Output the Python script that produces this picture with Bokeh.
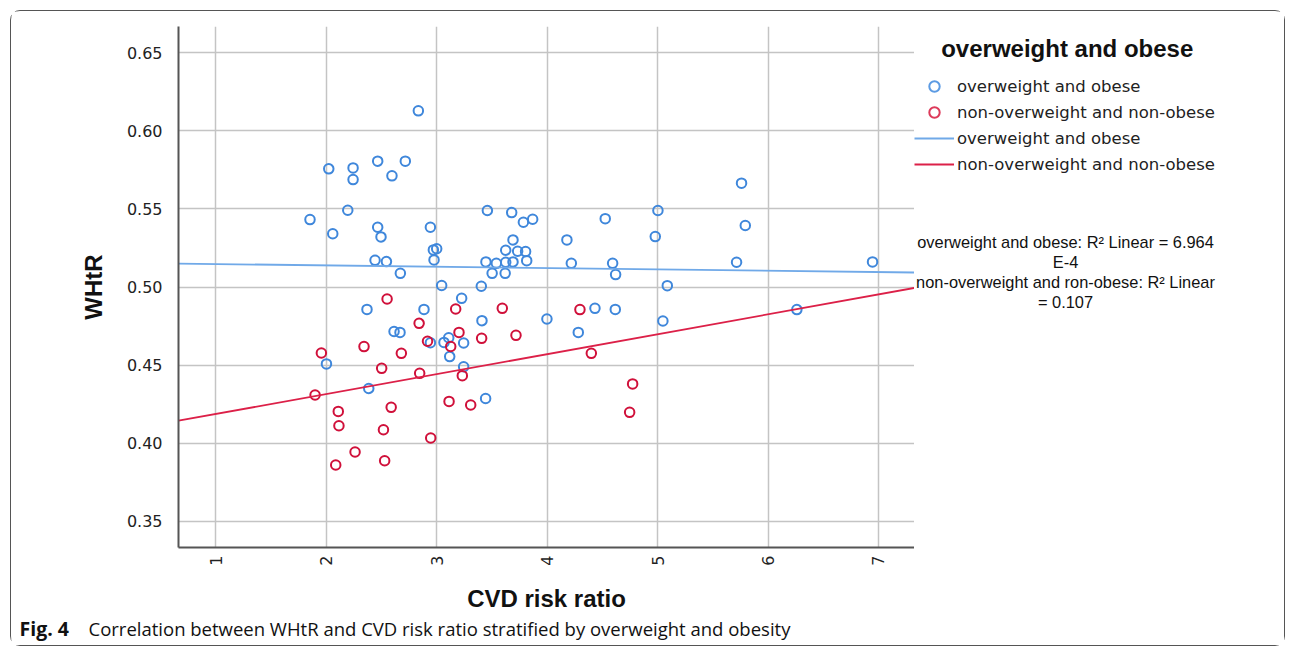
import numpy as np
from bokeh.plotting import figure
from bokeh.layouts import column, row
from bokeh.models import (FixedTicker, PrintfTickFormatter, Label, Legend,
                          LegendItem, Range1d)
from bokeh.embed import file_html
from bokeh.resources import INLINE

# ---------------- data ----------------
x_ticks = [1, 2, 3, 4, 5, 6, 7]
y_ticks = [0.35, 0.40, 0.45, 0.50, 0.55, 0.60, 0.65]

# overweight and obese group (CVD risk ratio, WHtR)
ow_cvd = [2.834, 2.023, 2.243, 2.243, 2.466, 2.716, 2.595, 1.853, 2.195, 2.059,
          2.466, 2.496, 2.943, 2.970, 3.000, 2.976, 2.442, 2.545, 2.671, 3.045,
          3.459, 3.679, 3.785, 3.869, 3.691, 3.625, 3.733, 3.805, 3.446, 3.540,
          3.625, 3.691, 3.815, 3.502, 3.620, 4.179, 4.219, 4.526, 4.593, 4.620,
          5.003, 4.979, 3.404, 3.226, 3.410, 3.998, 4.433, 4.617, 4.282, 3.244,
          3.109, 3.066, 3.118, 3.244, 3.443, 2.369, 2.885, 2.614, 2.668, 2.943,
          2.002, 2.385, 5.760, 5.794, 5.715, 6.946, 5.088, 5.048, 6.261]
ow_whtr = [0.6128, 0.5757, 0.5763, 0.5688, 0.5806, 0.5806, 0.5712, 0.5432, 0.5492, 0.5341,
           0.5383, 0.5321, 0.5383, 0.5238, 0.5245, 0.5174, 0.5171, 0.5163, 0.5088, 0.5010,
           0.5490, 0.5477, 0.5415, 0.5434, 0.5302, 0.5236, 0.5229, 0.5227, 0.5161, 0.5152,
           0.5159, 0.5161, 0.5169, 0.5088, 0.5088, 0.5302, 0.5152, 0.5438, 0.5152, 0.5080,
           0.5490, 0.5323, 0.5005, 0.4928, 0.4785, 0.4796, 0.4864, 0.4857, 0.4710, 0.4642,
           0.4676, 0.4646, 0.4555, 0.4490, 0.4287, 0.4857, 0.4857, 0.4716, 0.4710, 0.4644,
           0.4508, 0.4351, 0.5665, 0.5394, 0.5159, 0.5161, 0.5009, 0.4783, 0.4856]

# non-overweight and non-obese group
non_cvd = [3.172, 3.594, 4.297, 3.202, 3.407, 3.718, 3.127, 3.232, 4.400, 3.112,
           3.308, 4.774, 4.747, 2.551, 2.841, 2.917, 2.342, 2.680, 1.956, 2.502,
           2.846, 1.899, 2.109, 2.588, 2.115, 2.518, 2.946, 2.261, 2.529, 2.086]
non_whtr = [0.4860, 0.4864, 0.4856, 0.4710, 0.4672, 0.4691, 0.4620, 0.4433, 0.4576, 0.4268,
            0.4245, 0.4380, 0.4198, 0.4924, 0.4768, 0.4653, 0.4619, 0.4576, 0.4578, 0.4480,
            0.4448, 0.4309, 0.4204, 0.4230, 0.4112, 0.4087, 0.4034, 0.3944, 0.3888, 0.3861]

# linear fit lines (intercept, slope) as shown in the chart
fit_x = [0.6625, 7.326]
ow_fit = (0.5156, -0.000855)
non_fit = (0.4060, 0.01276)

legend_title = "overweight and obese"
labels_legend = ["overweight and obese", "non-overweight and non-obese"]
r2_lines = ["overweight and obese: R\u00b2 Linear = 6.964", "E-4",
            "non-overweight and ron-obese: R\u00b2 Linear", "= 0.107"]
caption_bold = "Fig. 4"
caption_text = "Correlation between WHtR and CVD risk ratio stratified by overweight and obesity"

BLUE = "#3f87db"
RED = "#d0103a"
BLUE_LINE = "#70a9e8"
RED_LINE = "#dc2048"
LEG_BLUE = "#5c9be3"
LEG_RED = "#dd3a5a"

ow_fit_y = [ow_fit[0] + ow_fit[1] * x for x in fit_x]
non_fit_y = [non_fit[0] + non_fit[1] * x for x in fit_x]

# ---------------- main plot ----------------
P_H = 604
p = figure(width=903, height=P_H, x_range=Range1d(0.6625, 7.326),
           y_range=Range1d(0.3333, 0.6668), output_backend="svg",
           toolbar_location=None, tools="", title=None,
           min_border_left=167, min_border_right=0,
           min_border_top=15, min_border_bottom=68)
p.outline_line_color = None

p.scatter(ow_cvd, ow_whtr, marker="circle", size=9.5, fill_color=None,
          line_color=BLUE, line_width=2)
p.scatter(non_cvd, non_whtr, marker="circle", size=9.5, fill_color=None,
          line_color=RED, line_width=2)
p.line(fit_x, ow_fit_y, line_color=BLUE_LINE, line_width=1.8)
p.line(fit_x, non_fit_y, line_color=RED_LINE, line_width=1.8)

for ax in (p.xaxis[0], p.yaxis[0]):
    ax.major_tick_line_color = None
    ax.minor_tick_line_color = None
    ax.axis_line_color = "#555555"
    ax.axis_line_width = 2
    ax.major_label_text_font = "DejaVu Sans"
    ax.major_label_text_font_size = "16px"
    ax.major_label_text_color = "#222222"
    ax.axis_label_text_font = "Liberation Sans"
    ax.axis_label_text_font_style = "bold"
    ax.axis_label_text_font_size = "24px"
    ax.axis_label_text_color = "#111111"

p.xaxis.ticker = FixedTicker(ticks=x_ticks)
p.xaxis.major_label_orientation = np.pi / 2
p.xaxis.major_label_standoff = 2
p.xaxis.axis_label = "CVD risk ratio"
p.xaxis.axis_label_standoff = 16

p.yaxis.ticker = FixedTicker(ticks=y_ticks)
p.yaxis.formatter = PrintfTickFormatter(format="%.2f")
p.yaxis.major_label_standoff = 10
p.yaxis.axis_label = "WHtR"
p.yaxis.axis_label_standoff = 17

p.xgrid.grid_line_color = "#c4c4c4"
p.ygrid.grid_line_color = "#c4c4c4"
p.xgrid.grid_line_width = 1.5
p.ygrid.grid_line_width = 1.5

# ---------------- legend / annotation panel ----------------
# (its frame is aligned with the main plot frame: page y 26 .. 547)
q = figure(width=370, height=P_H, x_range=Range1d(0, 1), y_range=Range1d(0, 1),
           x_axis_type=None, y_axis_type=None, output_backend="svg",
           toolbar_location=None, tools="", title=None, min_border=0)
q.outline_line_color = None
q.grid.visible = False

# renderers used only for the legend swatches (hidden in this panel)
lg_ow = q.scatter(ow_cvd, ow_whtr, marker="circle", fill_color=None,
                  line_color=LEG_BLUE, line_width=2, visible=False)
lg_non = q.scatter(non_cvd, non_whtr, marker="circle", fill_color=None,
                   line_color=LEG_RED, line_width=2, visible=False)
lg_owl = q.line(fit_x, ow_fit_y, line_color=BLUE_LINE, line_width=2, visible=False)
lg_nonl = q.line(fit_x, non_fit_y, line_color=RED_LINE, line_width=2, visible=False)

legend = Legend(items=[LegendItem(label=labels_legend[0], renderers=[lg_ow]),
                       LegendItem(label=labels_legend[1], renderers=[lg_non]),
                       LegendItem(label=labels_legend[0], renderers=[lg_owl]),
                       LegendItem(label=labels_legend[1], renderers=[lg_nonl])],
                location=(0, 370), glyph_width=40, glyph_height=26,
                label_height=26, spacing=0, padding=0, margin=0, label_standoff=3,
                label_text_font="DejaVu Sans", label_text_font_size="16.5px",
                label_text_color="#222222", inactive_fill_alpha=0,
                background_fill_alpha=0, border_line_color=None)
q.add_layout(legend)

q.add_layout(Label(x=26.7, y=499, x_units="screen", y_units="screen",
                   text=legend_title, text_font="Liberation Sans",
                   text_font_style="bold", text_font_size="24px",
                   text_color="#111111", text_baseline="middle"))

for txt, yy in zip(r2_lines, [305.3, 286, 266, 246]):
    q.add_layout(Label(x=151, y=yy, x_units="screen", y_units="screen",
                       text=txt, text_font="Liberation Sans",
                       text_font_size="16.4px", text_color="#111111",
                       text_align="center", text_baseline="middle"))

# ---------------- caption ----------------
C_H = 30
c = figure(width=1273, height=C_H, x_range=Range1d(0, 1), y_range=Range1d(0, 1),
           x_axis_type=None, y_axis_type=None, output_backend="svg",
           toolbar_location=None, tools="", title=None, min_border=0)
c.outline_line_color = None
c.grid.visible = False
c.add_layout(Label(x=8, y=17, x_units="screen", y_units="screen",
                   text=caption_bold, text_font="Open Sans", text_font_style="bold",
                   text_font_size="19.5px", text_color="#111111",
                   text_baseline="middle"))
c.add_layout(Label(x=77, y=17, x_units="screen", y_units="screen",
                   text=caption_text, text_font="Open Sans",
                   text_font_size="18.5px", text_color="#111111",
                   text_baseline="middle"))

layout = column(row(p, q), c, margin=(10, 0, 0, 10),
                styles={"border": "1px solid #555555", "border-radius": "10px"})

open("out.html", "w").write(file_html(layout, INLINE))
